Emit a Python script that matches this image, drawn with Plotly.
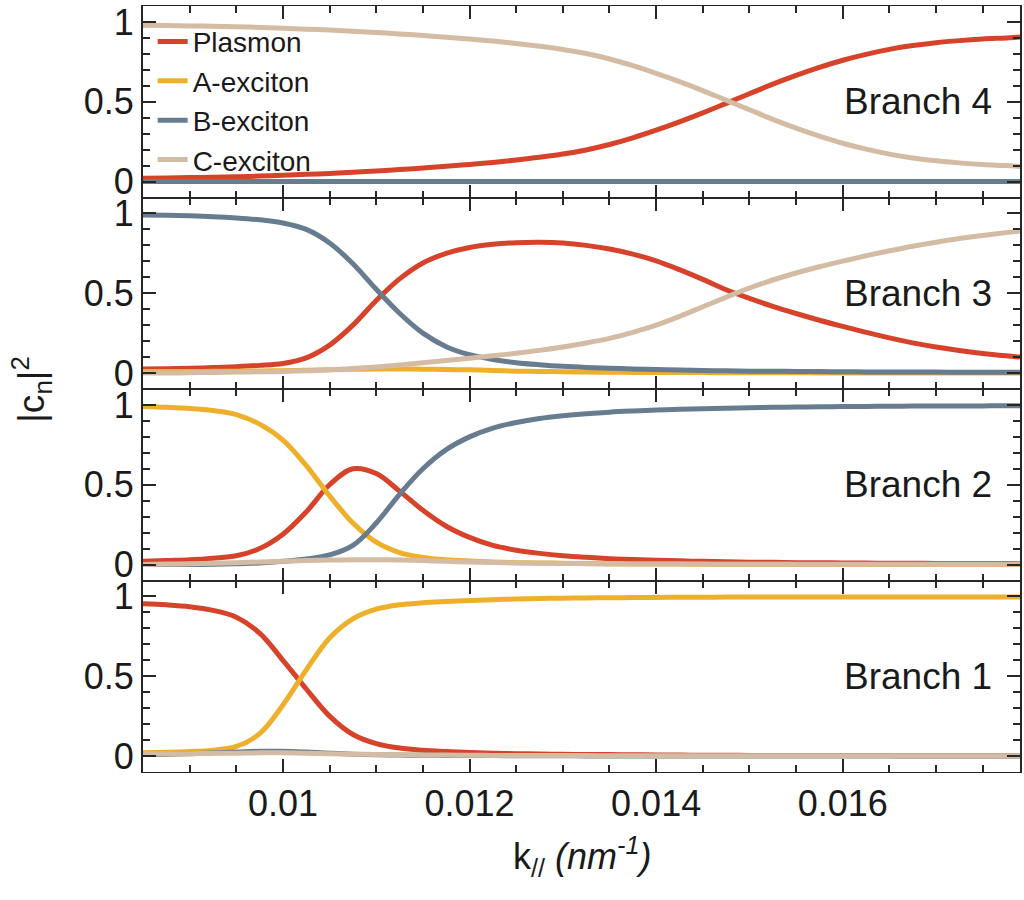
import plotly.graph_objects as go
from plotly.subplots import make_subplots

# In-plane wavevector k// (nm^-1)
k = [0.0085, 0.00875, 0.009, 0.00925, 0.0095, 0.00975, 0.01, 0.01025, 0.0105, 0.01075,
     0.011, 0.01125, 0.0115, 0.01175, 0.012, 0.01225, 0.0125, 0.01275, 0.013, 0.01325,
     0.0135, 0.01375, 0.014, 0.01425, 0.0145, 0.01475, 0.015, 0.01525, 0.0155, 0.01575,
     0.016, 0.01625, 0.0165, 0.01675, 0.017, 0.01725, 0.0175, 0.01775, 0.0179]

# Hopfield coefficients |c_n|^2 of every polariton branch
b4_plasmon = [0.020, 0.022, 0.025, 0.027, 0.030, 0.034, 0.039, 0.045, 0.051, 0.058,
              0.066, 0.075, 0.085, 0.096, 0.107, 0.120, 0.135, 0.152, 0.172, 0.198,
              0.232, 0.274, 0.322, 0.374, 0.430, 0.490, 0.550, 0.610, 0.665, 0.715,
              0.760, 0.797, 0.828, 0.852, 0.870, 0.883, 0.893, 0.900, 0.905]
b4_a = [0.0, 0.0, 0.0, 0.0, 0.0, 0.0, 0.0, 0.0, 0.0, 0.0,
        0.0, 0.0, 0.0, 0.0, 0.0, 0.0, 0.0, 0.0, 0.0, 0.0,
        0.0, 0.0, 0.0, 0.0, 0.0, 0.0, 0.0, 0.0, 0.0, 0.0,
        0.0, 0.0, 0.0, 0.0, 0.0, 0.0, 0.0, 0.0, 0.0]
b4_b = [0.0, 0.0, 0.0, 0.0, 0.0, 0.0, 0.0, 0.0, 0.0, 0.0,
        0.0, 0.0, 0.0, 0.0, 0.0, 0.0, 0.0, 0.0, 0.0, 0.0,
        0.0, 0.0, 0.0, 0.0, 0.0, 0.0, 0.0, 0.0, 0.0, 0.0,
        0.0, 0.0, 0.0, 0.0, 0.0, 0.0, 0.0, 0.0, 0.0]
b4_c = [0.980, 0.978, 0.975, 0.973, 0.970, 0.966, 0.961, 0.955, 0.949, 0.942,
        0.934, 0.925, 0.915, 0.904, 0.893, 0.880, 0.865, 0.848, 0.828, 0.802,
        0.768, 0.726, 0.678, 0.626, 0.570, 0.510, 0.450, 0.390, 0.335, 0.285,
        0.240, 0.203, 0.172, 0.148, 0.130, 0.117, 0.107, 0.100, 0.095]

b3_plasmon = [0.025, 0.027, 0.030, 0.034, 0.040, 0.048, 0.060, 0.095, 0.175, 0.300,
              0.455, 0.590, 0.690, 0.750, 0.787, 0.807, 0.817, 0.820, 0.815, 0.800,
              0.777, 0.745, 0.703, 0.648, 0.587, 0.522, 0.468, 0.418, 0.373, 0.331,
              0.292, 0.255, 0.220, 0.189, 0.163, 0.141, 0.123, 0.108, 0.100]
b3_a = [0.010, 0.010, 0.010, 0.011, 0.012, 0.013, 0.015, 0.018, 0.020, 0.023,
        0.025, 0.025, 0.024, 0.022, 0.020, 0.016, 0.012, 0.010, 0.008, 0.006,
        0.005, 0.004, 0.004, 0.003, 0.003, 0.002, 0.002, 0.002, 0.002, 0.001,
        0.001, 0.001, 0.001, 0.001, 0.001, 0.001, 0.001, 0.001, 0.001]
b3_b = [0.990, 0.988, 0.985, 0.980, 0.972, 0.960, 0.940, 0.900, 0.815, 0.685,
        0.525, 0.375, 0.250, 0.165, 0.115, 0.085, 0.065, 0.052, 0.042, 0.035,
        0.030, 0.026, 0.022, 0.019, 0.016, 0.014, 0.012, 0.011, 0.010, 0.009,
        0.008, 0.007, 0.007, 0.006, 0.006, 0.005, 0.005, 0.005, 0.005]
b3_c = [0.000, 0.000, 0.002, 0.004, 0.006, 0.008, 0.010, 0.014, 0.020, 0.028,
        0.038, 0.050, 0.064, 0.078, 0.093, 0.108, 0.124, 0.142, 0.163, 0.188,
        0.217, 0.255, 0.300, 0.355, 0.415, 0.475, 0.533, 0.583, 0.627, 0.666,
        0.701, 0.735, 0.766, 0.795, 0.820, 0.843, 0.862, 0.880, 0.890]

b2_plasmon = [0.020, 0.025, 0.030, 0.040, 0.055, 0.100, 0.190, 0.330, 0.500, 0.600,
              0.570, 0.460, 0.340, 0.240, 0.170, 0.120, 0.090, 0.070, 0.055, 0.045,
              0.037, 0.031, 0.027, 0.023, 0.020, 0.018, 0.015, 0.014, 0.012, 0.011,
              0.010, 0.009, 0.008, 0.008, 0.007, 0.007, 0.006, 0.006, 0.005]
b2_a = [0.990, 0.985, 0.978, 0.965, 0.940, 0.880, 0.780, 0.620, 0.430, 0.260,
        0.140, 0.075, 0.045, 0.030, 0.022, 0.016, 0.012, 0.010, 0.008, 0.006,
        0.005, 0.004, 0.003, 0.003, 0.002, 0.002, 0.002, 0.002, 0.001, 0.001,
        0.001, 0.001, 0.001, 0.001, 0.001, 0.001, 0.001, 0.001, 0.001]
b2_b = [0.000, 0.000, 0.000, 0.002, 0.005, 0.010, 0.020, 0.035, 0.060, 0.120,
        0.260, 0.440, 0.600, 0.720, 0.800, 0.855, 0.890, 0.915, 0.932, 0.945,
        0.955, 0.962, 0.968, 0.973, 0.977, 0.980, 0.983, 0.985, 0.987, 0.988,
        0.990, 0.991, 0.992, 0.993, 0.993, 0.994, 0.994, 0.995, 0.995]
b2_c = [0.000, 0.003, 0.005, 0.008, 0.012, 0.016, 0.020, 0.025, 0.028, 0.030,
        0.030, 0.028, 0.025, 0.020, 0.016, 0.013, 0.010, 0.008, 0.007, 0.005,
        0.004, 0.004, 0.003, 0.003, 0.003, 0.002, 0.002, 0.002, 0.002, 0.002,
        0.002, 0.002, 0.002, 0.002, 0.002, 0.002, 0.002, 0.002, 0.002]

b1_plasmon = [0.955, 0.948, 0.936, 0.913, 0.870, 0.770, 0.600, 0.420, 0.250, 0.135,
              0.078, 0.050, 0.036, 0.028, 0.022, 0.018, 0.015, 0.013, 0.011, 0.010,
              0.009, 0.008, 0.007, 0.006, 0.005, 0.005, 0.004, 0.004, 0.004, 0.003,
              0.003, 0.003, 0.003, 0.002, 0.002, 0.002, 0.002, 0.002, 0.002]
b1_a = [0.020, 0.023, 0.028, 0.037, 0.060, 0.140, 0.320, 0.540, 0.740, 0.860,
        0.920, 0.948, 0.960, 0.968, 0.975, 0.980, 0.984, 0.987, 0.989, 0.991,
        0.992, 0.993, 0.994, 0.995, 0.995, 0.996, 0.996, 0.996, 0.996, 0.997,
        0.997, 0.997, 0.997, 0.997, 0.997, 0.997, 0.997, 0.997, 0.997]
b1_b = [0.010, 0.012, 0.015, 0.020, 0.025, 0.030, 0.030, 0.025, 0.018, 0.012,
        0.008, 0.006, 0.005, 0.004, 0.003, 0.003, 0.002, 0.002, 0.002, 0.001,
        0.001, 0.001, 0.001, 0.001, 0.001, 0.001, 0.001, 0.001, 0.001, 0.001,
        0.001, 0.001, 0.001, 0.001, 0.001, 0.001, 0.001, 0.001, 0.001]
b1_c = [0.015, 0.015, 0.015, 0.017, 0.018, 0.020, 0.020, 0.018, 0.015, 0.012,
        0.010, 0.008, 0.007, 0.006, 0.005, 0.004, 0.004, 0.003, 0.003, 0.003,
        0.002, 0.002, 0.002, 0.002, 0.002, 0.002, 0.002, 0.002, 0.002, 0.002,
        0.002, 0.002, 0.002, 0.002, 0.002, 0.002, 0.002, 0.002, 0.002]

components = ["Plasmon", "A-exciton", "B-exciton", "C-exciton"]
colors = ["#D6432A", "#EEAF2B", "#687C90", "#D4BBA3"]

branches = [  # top row first
    ("Branch 4", [b4_plasmon, b4_a, b4_b, b4_c]),
    ("Branch 3", [b3_plasmon, b3_a, b3_b, b3_c]),
    ("Branch 2", [b2_plasmon, b2_a, b2_b, b2_c]),
    ("Branch 1", [b1_plasmon, b1_a, b1_b, b1_c]),
]

xticks = [0.01, 0.012, 0.014, 0.016]
xticklabels = ["0.01", "0.012", "0.014", "0.016"]
yticks = [0, 0.5, 1]
yticklabels = ["0", "0.5", "1"]

FONT = "Helvetica, Liberation Sans, Arial, sans-serif"
INK = "#1a1a1a"
AXIS = "#262626"

fig = make_subplots(rows=4, cols=1, shared_xaxes=True, vertical_spacing=0)

for row, (name, series) in enumerate(branches, start=1):
    for comp, col, ys in zip(components, colors, series):
        fig.add_trace(
            go.Scatter(
                x=k, y=ys, mode="lines", name=comp, legendgroup=comp,
                showlegend=(row == 1),
                line=dict(color=col, width=5, shape="spline", smoothing=1.0),
            ),
            row=row, col=1,
        )
    suffix = "" if row == 1 else str(row)
    fig.add_annotation(
        text=name, xref=f"x{suffix} domain", yref=f"y{suffix} domain",
        x=0.970, y=0.5, xanchor="right", yanchor="middle", showarrow=False,
        font=dict(family=FONT, size=37, color=INK),
    )

    # horizontal frame edges: adjacent panels share them, so keep each thin
    fig.update_xaxes(
        row=row, col=1, range=[0.0085, 0.0179],
        tickmode="array", tickvals=xticks, ticktext=xticklabels,
        showticklabels=(row == 4),
        ticks="inside", ticklen=13, tickwidth=2, tickcolor=AXIS,
        minor=dict(ticks="inside", ticklen=7, tickwidth=2, tickcolor=AXIS,
                   dtick=0.0005, tick0=0, showgrid=False),
        showline=True, linewidth=1, linecolor=AXIS, mirror="allticks",
        showgrid=False, zeroline=False,
        tickfont=dict(family=FONT, size=36, color=INK),
    )
    fig.update_yaxes(
        row=row, col=1, range=[-0.1, 1.1],
        tickmode="array", tickvals=yticks, ticktext=yticklabels,
        ticks="inside", ticklen=13, tickwidth=2, tickcolor=AXIS,
        minor=dict(ticks="inside", ticklen=7, tickwidth=2, tickcolor=AXIS,
                   dtick=0.1, tick0=0, showgrid=False),
        showline=True, linewidth=2, linecolor=AXIS, mirror="allticks",
        showgrid=False, zeroline=False,
        tickfont=dict(family=FONT, size=36, color=INK),
    )

# axis titles
fig.add_annotation(
    text="|c<sub>n</sub>|<sup>2</sup>", xref="paper", yref="paper",
    x=-0.128, y=0.5, xanchor="center", yanchor="middle", textangle=-90,
    showarrow=False, font=dict(family=FONT, size=37, color=INK),
)
fig.add_annotation(
    text="k<sub>//</sub> <i>(nm<sup>-1</sup>)</i>", xref="paper", yref="paper",
    x=0.5, y=-0.074, xanchor="center", yanchor="top",
    showarrow=False, font=dict(family=FONT, size=36, color=INK),
)

fig.update_layout(
    width=1024, height=900,
    margin=dict(l=143, r=2, t=4, b=128),
    paper_bgcolor="white", plot_bgcolor="white",
    font=dict(family=FONT, color=INK),
    legend=dict(
        x=0.011, y=0.986, xanchor="left", yanchor="top",
        bgcolor="rgba(0,0,0,0)", borderwidth=0,
        font=dict(family=FONT, size=28, color=INK),
        tracegroupgap=0, itemwidth=30,
    ),
)

fig.write_html("out.html")
